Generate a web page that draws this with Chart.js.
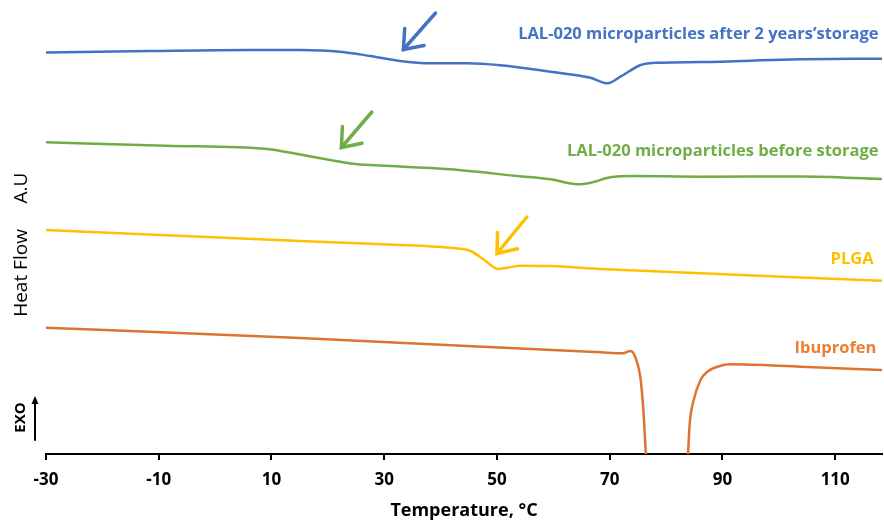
<!DOCTYPE html>
<html>
<head>
<meta charset="utf-8">
<script src="https://cdn.jsdelivr.net/npm/chart.js"></script>
<style>
  body { margin: 0; background: #fff; }
</style>
</head>
<body>
<canvas id="dsc" width="884" height="522"></canvas>
<script>
// x ticks (temperature, °C)
const xTicks = [-30, -10, 10, 30, 50, 70, 90, 110];

// LAL-020 microparticles after 2 years' storage
const afterT  = [-30, -11.5, 6.2, 15.1, 22.2, 27.5, 32.8, 38.2, 44.7, 50.6, 59.5, 66.6, 69.6, 71.9, 75.5, 79.0, 86.1, 103.9, 118.3];
const afterHF = [40.15, 40.3, 40.4, 40.4, 40.23, 39.8, 39.3, 39.07, 39.07, 38.87, 38.23, 37.63, 37.07, 37.73, 38.9, 39.13, 39.2, 39.47, 39.53];

// LAL-020 microparticles before storage
const beforeT  = [-30, -8.6, 9.2, 15.1, 20.4, 24.0, 26.6, 29.3, 41.7, 53.6, 59.5, 64.3, 66.6, 70.1, 74.2, 86.1, 103.9, 118.3];
const beforeHF = [31.17, 30.83, 30.5, 29.95, 29.4, 29.05, 28.92, 28.84, 28.47, 27.8, 27.47, 26.97, 27.13, 27.67, 27.8, 27.73, 27.75, 27.5];

// PLGA
const plgaT  = [-30, 15.1, 32.8, 37.3, 41.7, 45.3, 47.6, 50.2, 51.8, 54.2, 59.5, 68.4, 118.4];
const plgaHF = [22.4, 21.3, 20.9, 20.8, 20.62, 20.3, 19.47, 18.5, 18.63, 18.83, 18.8, 18.5, 17.33];

// Ibuprofen (melting peak runs off the bottom of the plot)
const ibuT  = [-30, 15.1, 68.4, 72.3, 73.7, 74.6, 75.5, 76.0, 76.45, 80.1, 83.85, 84.2, 84.9, 86.1, 87.3, 89.1, 91.4, 103.9, 118.4];
const ibuHF = [12.63, 11.6, 10.17, 10.07, 10.3, 9.6, 7.4, 4.1, -0.3, -20, -0.3, 3.1, 5.4, 7.4, 8.23, 8.73, 8.97, 8.73, 8.4];

const seriesNames = [
  'LAL-020 microparticles after 2 years\u2019storage',
  'LAL-020 microparticles before storage',
  'PLGA',
  'Ibuprofen'
];
const lineColors = ['#4472C4', '#70AD47', '#FFC000', '#DE7431'];
const textColors = ['#4472C4', '#70AD47', '#FFC000', '#ED7D31'];

// annotation anchors, in data units
const labelAnchors = [[117.7, 42.0], [117.7, 30.3], [116.8, 19.5], [117.3, 10.55]];
const arrows = [
  { from: [39.1, 44.1], to: [33.4, 40.45], color: '#4472C4' },
  { from: [27.8, 34.2], to: [22.4, 30.65], color: '#70AD47' },
  { from: [55.3, 23.7], to: [50.0, 20.05], color: '#FFC000' }
];

const pts = (xs, ys) => xs.map((v, i) => ({ x: v, y: ys[i] }));

Chart.defaults.font.family = "'Open Sans', sans-serif";

const extras = {
  id: 'extras',
  afterDraw(chart) {
    const { ctx, scales: { x, y } } = chart;
    ctx.save();

    // series labels
    ctx.font = "bold 16.5px 'Open Sans'";
    ctx.textAlign = 'right';
    ctx.textBaseline = 'middle';
    seriesNames.forEach((name, i) => {
      ctx.fillStyle = textColors[i];
      ctx.fillText(name, x.getPixelForValue(labelAnchors[i][0]), y.getPixelForValue(labelAnchors[i][1]));
    });

    // arrows pointing at the transitions
    arrows.forEach(a => {
      const x1 = x.getPixelForValue(a.from[0]), y1 = y.getPixelForValue(a.from[1]);
      const x2 = x.getPixelForValue(a.to[0]), y2 = y.getPixelForValue(a.to[1]);
      const ang = Math.atan2(y1 - y2, x1 - x2);
      const w = 21, spread = 0.66;
      ctx.strokeStyle = a.color;
      ctx.lineWidth = 3.5;
      ctx.lineCap = 'round';
      ctx.lineJoin = 'miter';
      ctx.beginPath();
      ctx.moveTo(x1, y1);
      ctx.lineTo(x2, y2);
      ctx.stroke();
      ctx.beginPath();
      ctx.moveTo(x2 + w * Math.cos(ang - spread), y2 + w * Math.sin(ang - spread));
      ctx.lineTo(x2, y2);
      ctx.lineTo(x2 + w * Math.cos(ang + spread), y2 + w * Math.sin(ang + spread));
      ctx.stroke();
    });

    // y axis title + EXO marker
    ctx.fillStyle = '#000';
    ctx.textAlign = 'center';
    ctx.save();
    ctx.translate(22, 273);
    ctx.rotate(-Math.PI / 2);
    ctx.font = "19px 'Open Sans'";
    ctx.fillText('Heat Flow', 0, 0);
    ctx.restore();
    ctx.save();
    ctx.translate(22, 188);
    ctx.rotate(-Math.PI / 2);
    ctx.font = "19px 'Open Sans'";
    ctx.fillText('A.U', 0, 0);
    ctx.restore();
    ctx.save();
    ctx.translate(21, 417.5);
    ctx.rotate(-Math.PI / 2);
    ctx.font = "bold 15px 'Open Sans'";
    ctx.fillText('EXO', 0, 0);
    ctx.restore();

    ctx.strokeStyle = '#000';
    ctx.lineWidth = 2;
    ctx.beginPath();
    ctx.moveTo(35, 440);
    ctx.lineTo(35, 402);
    ctx.stroke();
    ctx.beginPath();
    ctx.moveTo(35, 396);
    ctx.lineTo(31.5, 404);
    ctx.lineTo(38.5, 404);
    ctx.closePath();
    ctx.fillStyle = '#000';
    ctx.fill();

    ctx.restore();
  }
};

const series = [pts(afterT, afterHF), pts(beforeT, beforeHF), pts(plgaT, plgaHF), pts(ibuT, ibuHF)];

new Chart(document.getElementById('dsc'), {
  type: 'line',
  data: {
    datasets: series.map((d, i) => ({
      label: seriesNames[i],
      data: d,
      borderColor: lineColors[i],
      borderWidth: 2.5,
      pointRadius: 0,
      fill: false,
      cubicInterpolationMode: 'monotone'
    }))
  },
  options: {
    responsive: false,
    devicePixelRatio: 1,
    animation: false,
    layout: { padding: { left: 46, right: 2, top: 4, bottom: 0 } },
    plugins: { legend: { display: false }, tooltip: { enabled: false } },
    scales: {
      x: {
        type: 'linear',
        min: -30,
        max: 118.3,
        z: 1,
        afterBuildTicks: axis => { axis.ticks = xTicks.map(v => ({ value: v })); },
        grid: { drawOnChartArea: false, drawTicks: true, tickLength: 6, color: '#000', lineWidth: 2 },
        border: { display: true, color: '#000', width: 2 },
        ticks: {
          color: '#000',
          padding: 10,
          maxRotation: 0,
          autoSkip: false,
          font: { size: 17, weight: 'bold' }
        },
        title: {
          display: true,
          text: 'Temperature, \u00B0C',
          color: '#000',
          font: { size: 18, weight: 'bold' },
          padding: { top: 0, bottom: 0 }
        }
      },
      y: {
        display: false,
        min: 0,
        max: 45
      }
    }
  },
  plugins: [extras]
});
</script>
</body>
</html>
